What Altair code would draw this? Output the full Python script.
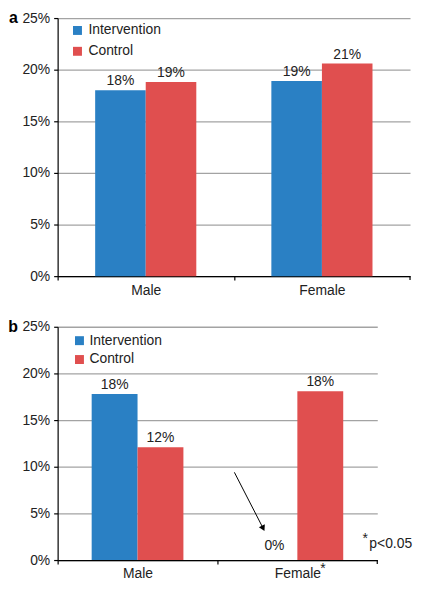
import altair as alt
import pandas as pd

# ---- data ----
categories = ["Male", "Female"]
groups = ["Intervention", "Control"]

a_intervention = [18.0, 18.9]
a_control = [18.8, 20.6]
a_int_labels = ["18%", "19%"]
a_ctrl_labels = ["19%", "21%"]

b_intervention = [17.8, 0.0]
b_control = [12.1, 18.1]
b_int_labels = ["18%", "0%"]
b_ctrl_labels = ["12%", "18%"]

y_ticks = [0, 5, 10, 15, 20, 25]
colors = ["#2a80c4", "#e04f4f"]
FS = 14


def make_df(iv, cv, il, cl):
    rows = []
    for i, c in enumerate(categories):
        rows.append({"category": c, "group": groups[0], "value": iv[i], "label": il[i]})
        rows.append({"category": c, "group": groups[1], "value": cv[i], "label": cl[i]})
    return pd.DataFrame(rows)


df_a = make_df(a_intervention, a_control, a_int_labels, a_ctrl_labels)
df_b = make_df(b_intervention, b_control, b_int_labels, b_ctrl_labels)


def panel(df, W, H, letter, lx, ly, row_pad, sym_gap, extra=()):
    step = W / 2
    base = alt.Chart(df)
    x = alt.X(
        "category:N",
        sort=categories,
        scale=alt.Scale(paddingInner=0.426, paddingOuter=0.213),
        axis=alt.Axis(
            title=None, labelAngle=0, tickOffset=-step / 2, labelOffset=step / 2,
            tickSize=4, tickColor="black", domainColor="black", domainWidth=1.2,
            tickWidth=1.2, labelFontSize=FS, labelColor="#222", labelPadding=3,
            grid=False,
        ),
    )
    xo = alt.XOffset("group:N", sort=groups, scale=alt.Scale(paddingInner=0, paddingOuter=0))
    y = alt.Y(
        "value:Q",
        scale=alt.Scale(domain=[0, 25], nice=False),
        axis=alt.Axis(
            title=None, values=y_ticks, labelExpr="datum.value + '%'",
            tickSize=4, tickColor="black", domainColor="black", domainWidth=1.2,
            tickWidth=1.2, grid=True, gridColor="#a3a3a3", gridWidth=1.3,
            labelFontSize=FS, labelColor="#222", labelPadding=4,
        ),
    )
    bars = base.mark_bar(strokeWidth=0).encode(
        x=x, xOffset=xo, y=y,
        color=alt.Color(
            "group:N", sort=groups,
            scale=alt.Scale(domain=groups, range=colors),
            legend=alt.Legend(
                title=None, orient="none", legendX=lx, legendY=ly,
                direction="vertical", symbolType="square", symbolSize=81,
                symbolStrokeWidth=0, symbolOpacity=1, labelFontSize=FS,
                labelColor="#222", rowPadding=row_pad, labelOffset=sym_gap,
                padding=0,
            ),
        ),
    )
    labels = base.transform_filter("datum.value > 0").mark_text(
        dy=-5, baseline="alphabetic", fontSize=FS, color="#222"
    ).encode(x=x, xOffset=xo, y=y, text="label:N")
    zero_labels = base.transform_filter("datum.value == 0").mark_text(
        dy=-10, baseline="alphabetic", fontSize=FS, color="#222"
    ).encode(x=x, xOffset=xo, y=y, text="label:N")
    letter_mark = alt.Chart(pd.DataFrame({"t": [letter]})).mark_text(
        align="right", baseline="alphabetic", fontSize=16, fontWeight="bold", color="black"
    ).encode(x=alt.value(-40), y=alt.value(5), text="t:N")
    end_tick = alt.Chart(pd.DataFrame({"t": [0]})).mark_rule(color="black", strokeWidth=1.2).encode(
        x=alt.value(W), y=alt.value(H), y2=alt.value(H + 4)
    )
    layers = [bars, labels, zero_labels, letter_mark, end_tick] + [e(W, H) for e in extra]
    return alt.layer(*layers).properties(width=W, height=H)


def arrow(W, H):
    seg = alt.Chart(pd.DataFrame({"t": [0]})).mark_rule(color="black", strokeWidth=1).encode(
        x=alt.value(0.553 * W), y=alt.datum(9.4), x2=alt.value(0.643 * W), y2=alt.datum(3.4)
    )
    head = alt.Chart(pd.DataFrame({"t": [0]})).mark_point(
        shape="triangle-down", filled=True, color="black", size=45, angle=333, opacity=1
    ).encode(x=alt.value(0.643 * W), y=alt.datum(3.4))
    return alt.layer(seg, head)


def female_star(W, H):
    return alt.Chart(pd.DataFrame({"t": ["*"]})).mark_text(
        align="left", baseline="alphabetic", fontSize=FS, color="#222", dx=23
    ).encode(x=alt.datum("Female"), y=alt.value(H + 13), text="t:N")


def pnote(W, H):
    star = alt.Chart(pd.DataFrame({"t": ["*"]})).mark_text(
        align="left", baseline="alphabetic", fontSize=FS, color="#222"
    ).encode(x=alt.value(W - 15), y=alt.value(H - 17), text="t:N")
    txt = alt.Chart(pd.DataFrame({"t": ["p<0.05"]})).mark_text(
        align="left", baseline="alphabetic", fontSize=FS, color="#222"
    ).encode(x=alt.value(W - 8), y=alt.value(H - 12), text="t:N")
    return alt.layer(star, txt)


pa = panel(df_a, 355, 260, "a", 13, 5.5, 7, 4)
pb = panel(df_b, 322, 235, "b", 15, 7, 5, 3, extra=(arrow, female_star, pnote))

chart = (
    alt.vconcat(pa, pb, spacing=22)
    .resolve_scale(color="independent", x="independent", y="independent", xOffset="independent")
    .resolve_legend(color="independent")
    .properties(padding=0)
    .configure(font="Liberation Sans")
    .configure_view(stroke=None)
)

chart.save("out.html", embed_options={"renderer": "svg", "actions": False})
